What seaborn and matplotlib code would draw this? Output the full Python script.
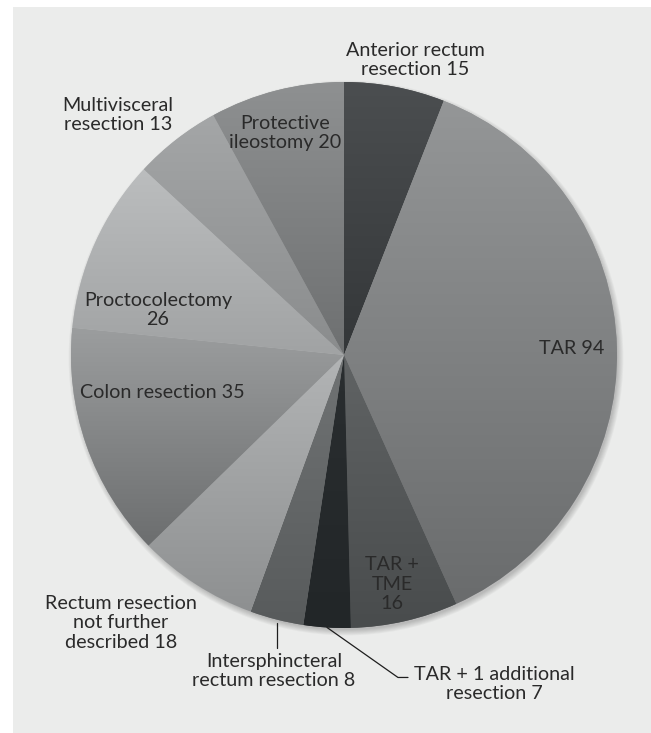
import numpy as np
import matplotlib
matplotlib.use("Agg")
import matplotlib.pyplot as plt
import seaborn as sns
from matplotlib.patches import Rectangle, Circle
from matplotlib.colors import to_rgb

# ==============================
# DATA
# ==============================
labels = ["Anterior rectum\nresection 15", "TAR 94", "TAR +\nTME\n16",
          "TAR + 1 additional\nresection 7", "Intersphincteral\nrectum resection 8",
          "Rectum resection\nnot further\ndescribed 18", "Colon resection 35",
          "Proctocolectomy\n26", "Multivisceral\nresection 13", "Protective\nileostomy 20"]
counts = [15, 94, 16, 7, 8, 18, 35, 26, 13, 20]

# gradient (top, bottom) for each slice
top_colors = ["#4b4e50", "#949697", "#606364", "#2a2e30", "#707374",
              "#b2b4b5", "#9b9d9e", "#bbbdbe", "#a4a6a7", "#8e9091"]
bottom_colors = ["#343739", "#6a6c6d", "#494c4d", "#222628", "#585b5c",
                 "#8e9091", "#6c6e6f", "#a1a3a4", "#8a8c8d", "#6e7071"]

# label centres in pixels (x, y from top)
label_pos = [(415, 60), (572, 349), (392, 584), (494, 684), (274, 671),
             (121, 623), (162, 393), (158, 310), (118, 115), (285, 133)]
leader = [False, False, False, True, True, False, False, False, False, False]

W, H = 651, 733
CX, CY, R = 344, 355, 273

sns.set_theme(style="white")
plt.rcParams['font.family'] = ['Lato', 'DejaVu Sans']
text_color = "#2a2a2a"

fig = plt.figure(figsize=(W / 100, H / 100), dpi=100, facecolor="white")
ax = fig.add_axes([0, 0, 1, 1])

# grey panel
ax.add_patch(Rectangle((13, 0), W - 13, H - 7, facecolor="#ebeceb", edgecolor="none", zorder=0))

# soft shadow, mostly below and right
for i in range(7):
    ax.add_patch(Circle((CX + 2, H - CY - 3), R - 1 + i * 0.9, facecolor="black",
                        edgecolor="none", alpha=0.03, zorder=1))

wedges, _ = ax.pie(counts, startangle=90, counterclock=False, center=(CX, H - CY),
                   radius=R, colors=top_colors, frame=True,
                   wedgeprops=dict(linewidth=0, edgecolor="none"))

# vertical gradient inside each wedge
for w, ct, cb in zip(wedges, top_colors, bottom_colors):
    w.set_zorder(2)
    ext = w.get_path().get_extents()
    t = np.linspace(0, 1, 64)[:, None]
    grad = (1 - t) * np.array(to_rgb(ct)) + t * np.array(to_rgb(cb))
    img = grad[:, None, :].repeat(2, axis=1)
    im = ax.imshow(img, extent=(ext.x0, ext.x1, ext.y0, ext.y1), origin="upper",
                   interpolation="bilinear", aspect="auto", zorder=3)
    im.set_clip_path(w)

# labels
for w, lab, (px, py), ld in zip(wedges, labels, label_pos, leader):
    x, y = px, H - py
    ax.text(x, y, lab, ha="center", va="center", fontsize=14.2, color=text_color,
            linespacing=1.2, zorder=5)
    if ld:
        ang = np.deg2rad((w.theta1 + w.theta2) / 2)
        ex, ey = CX + R * np.cos(ang), H - CY + R * np.sin(ang)
        if px - CX > 60:
            # bent leader to the right label
            kx, ky = ex + 71, ey - 50
            ax.plot([ex, kx, kx + 10], [ey, ky, ky], color="#1e1e1e", lw=0.9, zorder=4)
        else:
            ax.plot([ex, ex], [ey - 3, ey - 28], color="#1e1e1e", lw=0.9, zorder=4)

ax.set_xlim(0, W)
ax.set_ylim(0, H)
ax.set_aspect("equal")
ax.axis("off")

fig.savefig("out.png", dpi=100, facecolor="white")
